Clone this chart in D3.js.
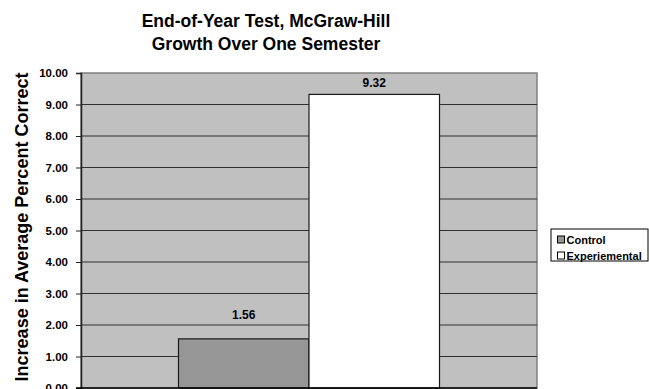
<!DOCTYPE html>
<html>
<head>
<meta charset="utf-8">
<script src="https://cdn.jsdelivr.net/npm/d3@7"></script>
<style>
  body { margin: 0; background: #fff; }
  svg { display: block; font-family: "Liberation Sans", Arial, sans-serif; }
</style>
</head>
<body>
<div id="chart"></div>
<script>
// data
var series = ["Control", "Experiemental"];
var values = [1.56, 9.32];
var colors = ["#969696", "#ffffff"];
var yTicks = [0, 1, 2, 3, 4, 5, 6, 7, 8, 9, 10];
var titleLines = ["End-of-Year Test, McGraw-Hill", "Growth Over One Semester"];
var yLabel = "Increase in Average Percent Correct";

var W = 649, H = 389;
var plot = { left: 81, right: 537, top: 73, bottom: 388 };

var svg = d3.select("#chart").append("svg")
  .attr("width", W)
  .attr("height", H);

var y = d3.scaleLinear().domain([0, 10]).range([plot.bottom, plot.top]);

// one category, bars sit side by side with a gap either side
var x = d3.scaleBand().domain(series)
  .range([plot.left, plot.right])
  .paddingInner(0)
  .paddingOuter(0.747);

// plot background
svg.append("rect")
  .attr("x", plot.left).attr("y", plot.top)
  .attr("width", plot.right - plot.left)
  .attr("height", plot.bottom - plot.top)
  .attr("fill", "#c0c0c0")
  .attr("stroke", "#808080")
  .attr("stroke-width", 1.5);

// gridlines
svg.append("g")
  .selectAll("line")
  .data(yTicks.filter(d => d > 0 && d < 10))
  .enter().append("line")
  .attr("x1", plot.left).attr("x2", plot.right)
  .attr("y1", d => y(d)).attr("y2", d => y(d))
  .attr("stroke", "#303030")
  .attr("stroke-width", 1.2);

// bars
svg.append("g")
  .selectAll("rect")
  .data(values)
  .enter().append("rect")
  .attr("x", (d, i) => x(series[i]))
  .attr("y", d => y(d))
  .attr("width", x.bandwidth())
  .attr("height", d => y(0) - y(d))
  .attr("fill", (d, i) => colors[i])
  .attr("stroke", "#1a1a1a")
  .attr("stroke-width", 1.2);

// value labels, pushed down to stay inside the plot when near the top
svg.append("g")
  .selectAll("text")
  .data(values)
  .enter().append("text")
  .attr("x", (d, i) => x(series[i]) + x.bandwidth() / 2)
  .attr("y", d => Math.max(y(d) - 20, plot.top + 14))
  .attr("text-anchor", "middle")
  .style("font-size", "12px")
  .style("font-weight", "bold")
  .text(d => d.toFixed(2));

// y axis
var yAxis = d3.axisLeft(y)
  .tickValues(yTicks)
  .tickSize(5)
  .tickPadding(8)
  .tickFormat(d => d.toFixed(2));

var ax = svg.append("g")
  .attr("transform", "translate(" + plot.left + ",0)")
  .call(yAxis);
ax.select(".domain").attr("stroke", "#222").attr("stroke-width", 1.5);
ax.selectAll(".tick line").attr("stroke", "#222");
ax.selectAll(".tick text")
  .attr("fill", "#000")
  .style("font-size", "11.5px")
  .style("font-weight", "bold")
  .style("font-family", "'Liberation Sans', Arial, sans-serif");

// x axis baseline
svg.append("line")
  .attr("x1", plot.left - 5).attr("x2", plot.right)
  .attr("y1", y(0)).attr("y2", y(0))
  .attr("stroke", "#000")
  .attr("stroke-width", 1.5);

// title
svg.append("g")
  .selectAll("text")
  .data(titleLines)
  .enter().append("text")
  .attr("x", 266)
  .attr("y", (d, i) => 27 + i * 23)
  .attr("text-anchor", "middle")
  .style("font-size", "17.5px")
  .style("font-weight", "bold")
  .text(d => d);

// y label
svg.append("text")
  .attr("transform", "translate(28,227) rotate(-90)")
  .attr("text-anchor", "middle")
  .style("font-size", "18px")
  .style("font-weight", "bold")
  .text(yLabel);

// legend
var lg = svg.append("g").attr("transform", "translate(551,229)");
lg.append("rect")
  .attr("width", 97).attr("height", 32)
  .attr("fill", "#fff")
  .attr("stroke", "#000")
  .attr("stroke-width", 1);
var items = lg.selectAll(".item")
  .data(series)
  .enter().append("g")
  .attr("transform", (d, i) => "translate(6.5," + (7 + i * 16) + ")");
items.append("rect")
  .attr("width", 7).attr("height", 7)
  .attr("fill", (d, i) => colors[i])
  .attr("stroke", "#000")
  .attr("stroke-width", 1);
items.append("text")
  .attr("x", 9).attr("y", 7.5)
  .style("font-size", "11px")
  .style("font-weight", "bold")
  .text(d => d);
</script>
</body>
</html>
